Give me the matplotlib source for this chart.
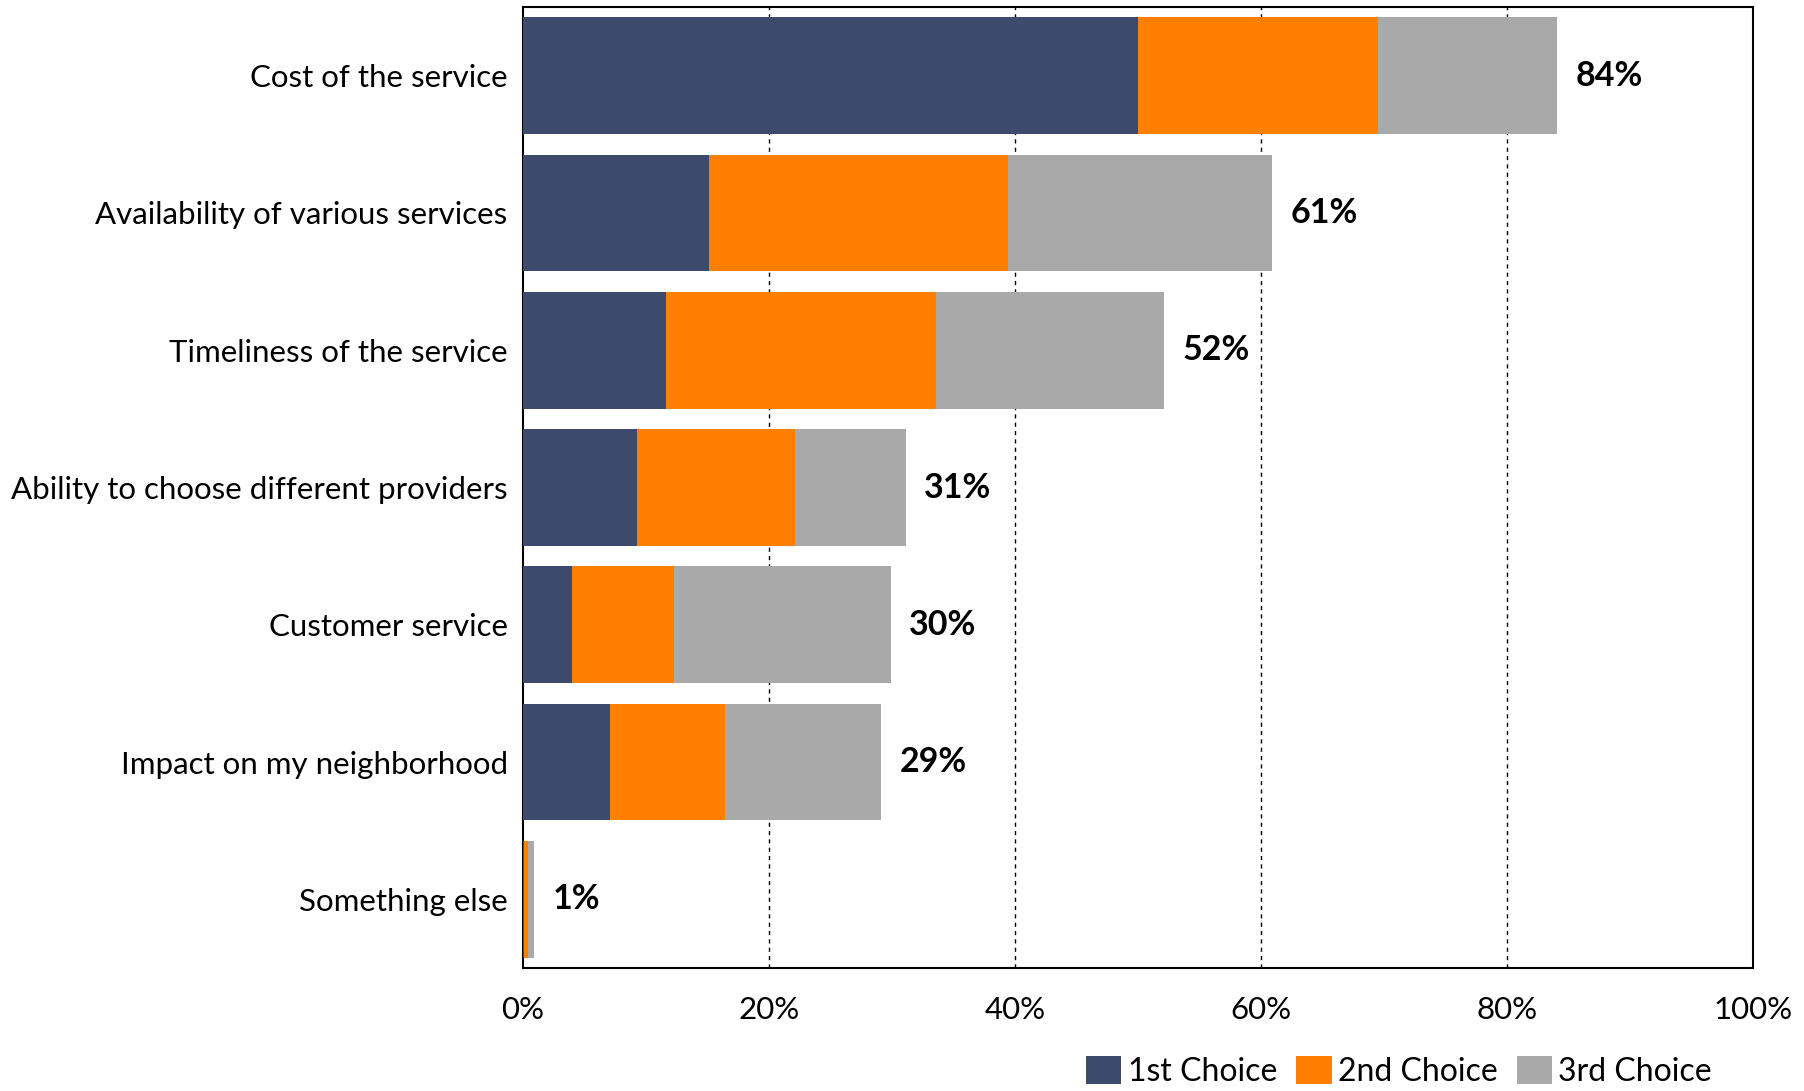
import matplotlib
matplotlib.use("Agg")
import matplotlib.pyplot as plt
from matplotlib.patches import Patch
import numpy as np

categories = ["Cost of the service", "Availability of various services", "Timeliness of the service",
              "Ability to choose different providers", "Customer service", "Impact on my neighborhood",
              "Something else"]
first = [50.0, 15.1, 11.6, 9.3, 4.0, 7.1, 0.1]
second = [19.5, 24.3, 22.0, 12.8, 8.3, 9.3, 0.3]
third = [14.6, 21.5, 18.5, 9.0, 17.6, 12.7, 0.5]
totals = ["84%", "61%", "52%", "31%", "30%", "29%", "1%"]
xticks = [0, 20, 40, 60, 80, 100]
xticklabels = ["0%", "20%", "40%", "60%", "80%", "100%"]
series_names = ["1st Choice", "2nd Choice", "3rd Choice"]
colors = ["#3D4A6B", "#FF8000", "#A9A9A9"]

plt.rcParams['font.family'] = ['Lato', 'DejaVu Sans']

fig = plt.figure(figsize=(18.04, 10.91), dpi=100)
ax = fig.add_axes([523/1804, 1 - 968/1091, (1753-523)/1804, (968-7)/1091])

y = np.arange(len(categories))
h = 0.85
f = np.array(first); s = np.array(second); t = np.array(third)
ax.barh(y, f, height=h, color=colors[0], zorder=3)
ax.barh(y, s, left=f, height=h, color=colors[1], zorder=3)
ax.barh(y, t, left=f + s, height=h, color=colors[2], zorder=3)

for yi, tot, lab in zip(y, f + s + t, totals):
    ax.text(tot + 1.5, yi, lab, va='center', ha='left', fontsize=24.5, fontweight='bold', color='black')

ax.set_xlim(0, 100)
ax.set_ylim(len(categories) - 0.5, -0.5)
ax.set_xticks(xticks)
ax.set_xticklabels(xticklabels, fontsize=22.5)
ax.set_yticks(y)
ax.set_yticklabels(categories, fontsize=22.5)
ax.tick_params(axis='both', length=0)
ax.tick_params(axis='y', pad=11)
ax.tick_params(axis='x', pad=20)
for xv in xticks[1:-1]:
    ax.axvline(xv, color='black', linestyle=(0, (3, 3)), linewidth=1.0, zorder=1)
for sp in ax.spines.values():
    sp.set_color('black')
    sp.set_linewidth(1.5)

handles = [Patch(facecolor=c) for c in colors]
fig.legend(handles, series_names, loc='lower right', bbox_to_anchor=(1712/1804, 4/1091), ncol=3,
           frameon=False, fontsize=23, handlelength=1.1, handleheight=1.0, handletextpad=0.2,
           columnspacing=0.6, borderaxespad=0, borderpad=0)

fig.savefig("out.png", dpi=100, facecolor='white')
